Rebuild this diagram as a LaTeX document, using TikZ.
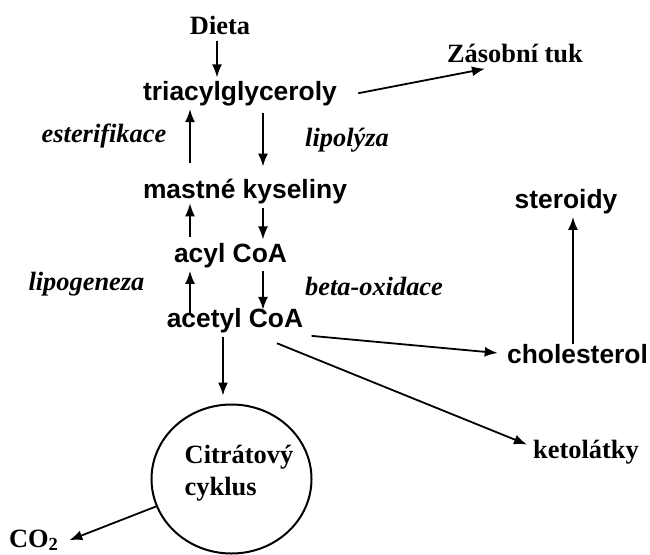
\documentclass[tikz,border=0pt]{standalone}
\usepackage{fontspec}
\setmainfont{Liberation Serif}
\setsansfont{Liberation Sans}
\usetikzlibrary{arrows.meta,shapes.geometric}

\begin{document}
\begin{tikzpicture}[x=0.5pt,y=-0.5pt,
      met/.style={font=\sffamily\bfseries\fontsize{13.2}{16}\selectfont,inner sep=1.5pt,anchor=base},
      pool/.style={font=\bfseries\fontsize{13.2}{16}\selectfont,inner sep=1.5pt,anchor=base},
      proc/.style={font=\bfseries\itshape\fontsize{13.2}{16}\selectfont,inner sep=1.5pt,anchor=base},
      arr/.style={-{Latex[length=6.5pt,width=5pt]},line width=0.9pt}]
    \useasboundingbox (0,0) rectangle (650,554);
    % metabolity
    \node[pool] (dieta) at (220,34) {Dieta};
    \node[met] (tri) at (240,100) {triacylglyceroly};
    \node[pool] (zas) at (515,62) {Zásobní tuk};
    \node[met] (mastne) at (245,198) {mastné kyseliny};
    \node[met] (acyl) at (230.5,262) {acyl CoA};
    \node[met] (acetyl) at (235,327) {acetyl CoA};
    \node[met] (steroidy) at (566,208) {steroidy};
    \node[met] (chol) at (577.5,363) {cholesterol};
    \node[pool] (keto) at (586,458) {ketolátky};
    \node[pool] (co2) at (34,547) {CO\textsubscript{2}};
    \node[ellipse,draw,line width=1pt,minimum width=80pt,minimum height=74.5pt,inner sep=0pt] (circ) at (231.5,479) {};
    \node[font=\bfseries\fontsize{13.2}{16}\selectfont,align=left] (cyk) at (239,473) {Citrátový\\cyklus};
    % procesy
    \node[proc] (ester) at (104,142) {esterifikace};
    \node[proc] (lipol) at (347,146) {lipolýza};
    \node[proc] (lipog) at (86.5,290) {lipogeneza};
    \node[proc] (beta) at (374,295) {beta-oxidace};
    % sipky
    \draw[arr,shorten <=1.5pt] ([xshift=-1.5pt]dieta.south) -- ([xshift=-1.5pt]dieta.south |- tri.north);
    \draw[arr] ([xshift=9pt]tri.east) -- ([xshift=-15pt,yshift=-1.5pt]zas.south);
    \draw[arr,shorten <=2.2pt,shorten >=4.35pt] ([xshift=11.5pt]tri.south) -- ([xshift=11.5pt]tri.south |- mastne.north);
    \draw[arr,shorten <=6.35pt] ([xshift=-27.5pt]mastne.north) -- ([xshift=-27.5pt]mastne.north |- tri.south);
    \draw[arr,shorten <=0.7pt] ([xshift=9pt]mastne.south) -- ([xshift=9pt]mastne.south |- acyl.north);
    \draw[arr,shorten <=1.35pt,shorten >=-1.8pt] ([xshift=-20.25pt]acyl.north) -- ([xshift=-20.25pt]acyl.north |- mastne.south);
    \draw[arr,shorten >=-2.65pt] ([xshift=16.25pt]acyl.south) -- ([xshift=16.25pt]acyl.south |- acetyl.north);
    \draw[arr,shorten <=-4.15pt] ([xshift=-22.5pt]acetyl.north) -- ([xshift=-22.5pt]acetyl.north |- acyl.south);
    \draw[arr,shorten <=0.7pt,shorten >=4pt] ([xshift=-6pt]acetyl.south) -- ([xshift=-6pt]acetyl.south |- circ.north);
    \draw[arr,shorten >=3pt] ([xshift=2.5pt]acetyl.south east) -- (chol.west);
    \draw[arr,shorten >=1.5pt] ([xshift=21pt,yshift=-3.7pt]acetyl.south) -- ([yshift=3pt]keto.west);
    \draw[arr,shorten <=-1.85pt] ([xshift=-2.25pt]chol.north) -- ([xshift=-2.25pt]chol.north |- steroidy.south);
    \draw[arr] (circ.200) -- ([xshift=3.5pt]co2.east);
  \end{tikzpicture}
\end{document}
